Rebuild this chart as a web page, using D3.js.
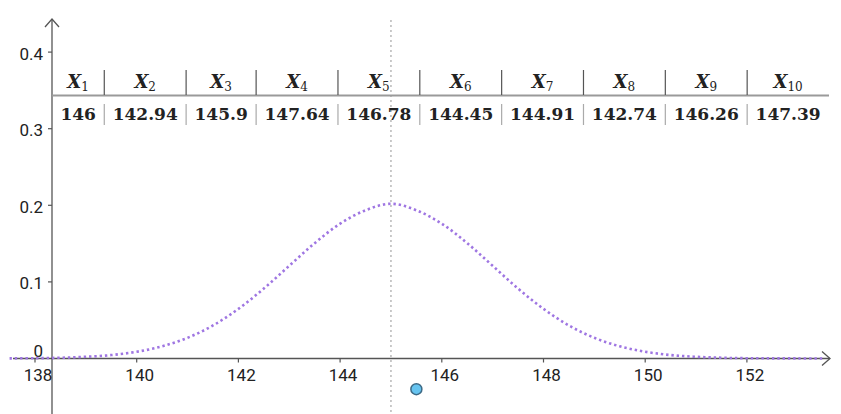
<!DOCTYPE html>
<html>
<head>
<meta charset="utf-8">
<script src="https://cdn.jsdelivr.net/npm/d3@7/dist/d3.min.js"></script>
<style>
  body { margin: 0; background: #fff; }
  svg { display: block; }
</style>
</head>
<body>
<div id="chart-area"></div>
<script>
// curve samples
var curveX = [137.5, 138, 138.5, 139, 139.5, 140, 140.5, 141, 141.5, 142, 142.5, 143, 143.5, 144, 144.5,
              145, 145.5, 146, 146.5, 147, 147.5, 148, 148.5, 149, 149.5, 150, 150.5, 151, 151.5, 152, 152.5, 153, 153.5];
var curveY = [0.0002, 0.0004, 0.0010, 0.0022, 0.0045, 0.0088, 0.0159, 0.0270, 0.0431, 0.0648, 0.0913, 0.1210, 0.1506, 0.1760, 0.1935,
              0.2020, 0.1935, 0.1760, 0.1506, 0.1210, 0.0913, 0.0648, 0.0431, 0.0270, 0.0159, 0.0088, 0.0045, 0.0022, 0.0010, 0.0004, 0.0002, 0.0001, 0.0000];

var xTicks = [138, 140, 142, 144, 146, 148, 150, 152];
var yTicks = [0.1, 0.2, 0.3, 0.4];

var meanLine = 145;
var pointX = [145.5];
var pointY = [-0.040];

var headers = ["1", "2", "3", "4", "5", "6", "7", "8", "9", "10"];
var samples = ["146", "142.94", "145.9", "147.64", "146.78", "144.45", "144.91", "142.74", "146.26", "147.39"];

var width = 841, height = 414;

var svg = d3.select("#chart-area").append("svg")
    .attr("width", width)
    .attr("height", height);

var x = d3.scaleLinear().domain([138, 152]).range([35, 746.9]);
var y = d3.scaleLinear().domain([0, 0.4]).range([358.5, 52.1]);

var axisX = 52;        // where the y axis sits
var axisColor = "#555";
var labelFont = "Roboto, 'DejaVu Sans', sans-serif";

// dotted vertical line at the mean
svg.append("line")
    .attr("x1", x(meanLine)).attr("x2", x(meanLine))
    .attr("y1", 20).attr("y2", height)
    .attr("stroke", "#bdbdbd")
    .attr("stroke-width", 1.6)
    .attr("stroke-dasharray", "2,3");

// axes
svg.append("line")
    .attr("x1", 13).attr("x2", 830)
    .attr("y1", y(0)).attr("y2", y(0))
    .attr("stroke", axisColor).attr("stroke-width", 1.3);
svg.append("path")
    .attr("d", "M" + 822 + "," + (y(0) - 7) + "L830," + y(0) + "L" + 822 + "," + (y(0) + 7))
    .attr("fill", "none").attr("stroke", axisColor).attr("stroke-width", 1.3);

svg.append("line")
    .attr("x1", axisX).attr("x2", axisX)
    .attr("y1", 19).attr("y2", height)
    .attr("stroke", axisColor).attr("stroke-width", 1.3);
svg.append("path")
    .attr("d", "M" + (axisX - 7) + ",27L" + axisX + ",19L" + (axisX + 7) + ",27")
    .attr("fill", "none").attr("stroke", axisColor).attr("stroke-width", 1.3);

// x ticks + labels
svg.selectAll(".xtick").data(xTicks).enter().append("line")
    .attr("class", "xtick")
    .attr("x1", function(d) { return x(d); }).attr("x2", function(d) { return x(d); })
    .attr("y1", y(0)).attr("y2", y(0) + 4)
    .attr("stroke", axisColor).attr("stroke-width", 1.2);
svg.selectAll(".xlab").data(xTicks).enter().append("text")
    .attr("class", "xlab")
    .attr("x", function(d) { return x(d) + 3; })
    .attr("y", 381)
    .attr("text-anchor", "middle")
    .attr("font-family", labelFont)
    .attr("font-size", 17)
    .attr("fill", "#222")
    .text(function(d) { return d; });

// y ticks + labels
svg.selectAll(".ytick").data(yTicks).enter().append("line")
    .attr("class", "ytick")
    .attr("x1", axisX - 4).attr("x2", axisX)
    .attr("y1", function(d) { return y(d); }).attr("y2", function(d) { return y(d); })
    .attr("stroke", axisColor).attr("stroke-width", 1.2);
svg.selectAll(".ylab").data(yTicks).enter().append("text")
    .attr("class", "ylab")
    .attr("x", 43)
    .attr("y", function(d) { return y(d) + 7.5; })
    .attr("text-anchor", "end")
    .attr("font-family", labelFont)
    .attr("font-size", 17)
    .attr("fill", "#222")
    .text(function(d) { return d3.format(".1f")(d); });
svg.append("text")
    .attr("x", 43).attr("y", y(0) - 2)
    .attr("text-anchor", "end")
    .attr("font-family", labelFont)
    .attr("font-size", 17)
    .attr("fill", "#222")
    .text("0");

// the density curve, dotted
var line = d3.line()
    .x(function(d) { return x(d[0]); })
    .y(function(d) { return y(d[1]); })
    .curve(d3.curveCatmullRom);

svg.append("path")
    .datum(d3.zip(curveX, curveY))
    .attr("d", line)
    .attr("fill", "none")
    .attr("stroke", "#9f76e2")
    .attr("stroke-width", 2.6)
    .attr("stroke-dasharray", "2.4,2.9");

// point
svg.selectAll(".pt").data(d3.zip(pointX, pointY)).enter().append("circle")
    .attr("class", "pt")
    .attr("cx", function(d) { return x(d[0]); })
    .attr("cy", function(d) { return y(d[1]); })
    .attr("r", 5.5)
    .attr("fill", "#66c4f0")
    .attr("stroke", "#3d6a86")
    .attr("stroke-width", 1.5);

// table of sample values
var tableLeft = axisX, tableRight = 829;
var tFont = "'DejaVu Serif', 'Liberation Serif', serif";
var tSize = 17;

var g = svg.append("g");
var tw = samples.map(function(s) {
    var t = g.append("text").attr("font-family", tFont).attr("font-size", tSize)
        .attr("font-weight", "bold").text(s);
    var w = t.node().getComputedTextLength();
    t.remove();
    return w;
});
var pad = (tableRight - tableLeft - d3.sum(tw)) / samples.length;
var edges = [tableLeft];
tw.forEach(function(w, i) { edges.push(edges[i] + w + pad); });

g.append("line")
    .attr("x1", tableLeft).attr("x2", tableRight)
    .attr("y1", 95.5).attr("y2", 95.5)
    .attr("stroke", "#9a9a9a").attr("stroke-width", 1.8);

var inner = edges.slice(1, -1);
g.selectAll(".hsep").data(inner).enter().append("line")
    .attr("x1", function(d) { return d; }).attr("x2", function(d) { return d; })
    .attr("y1", 70).attr("y2", 95)
    .attr("stroke", "#555").attr("stroke-width", 1.2);
g.selectAll(".vsep").data(inner).enter().append("line")
    .attr("x1", function(d) { return d; }).attr("x2", function(d) { return d; })
    .attr("y1", 104).attr("y2", 125)
    .attr("stroke", "#aaa").attr("stroke-width", 1.2);

var hd = g.selectAll(".hd").data(headers).enter().append("text")
    .attr("x", function(d, i) { return (edges[i] + edges[i + 1]) / 2; })
    .attr("y", 88)
    .attr("text-anchor", "middle")
    .attr("font-family", tFont)
    .attr("font-size", 18)
    .attr("font-weight", "bold")
    .attr("fill", "#222");
hd.append("tspan").attr("font-style", "italic").text("X");
hd.append("tspan").attr("font-size", 12).attr("font-weight", "normal").attr("dy", 3)
    .text(function(d) { return d; });

g.selectAll(".val").data(samples).enter().append("text")
    .attr("x", function(d, i) { return (edges[i] + edges[i + 1]) / 2; })
    .attr("y", 120)
    .attr("text-anchor", "middle")
    .attr("font-family", tFont)
    .attr("font-size", tSize)
    .attr("font-weight", "bold")
    .attr("fill", "#222")
    .text(function(d) { return d; });
</script>
</body>
</html>
